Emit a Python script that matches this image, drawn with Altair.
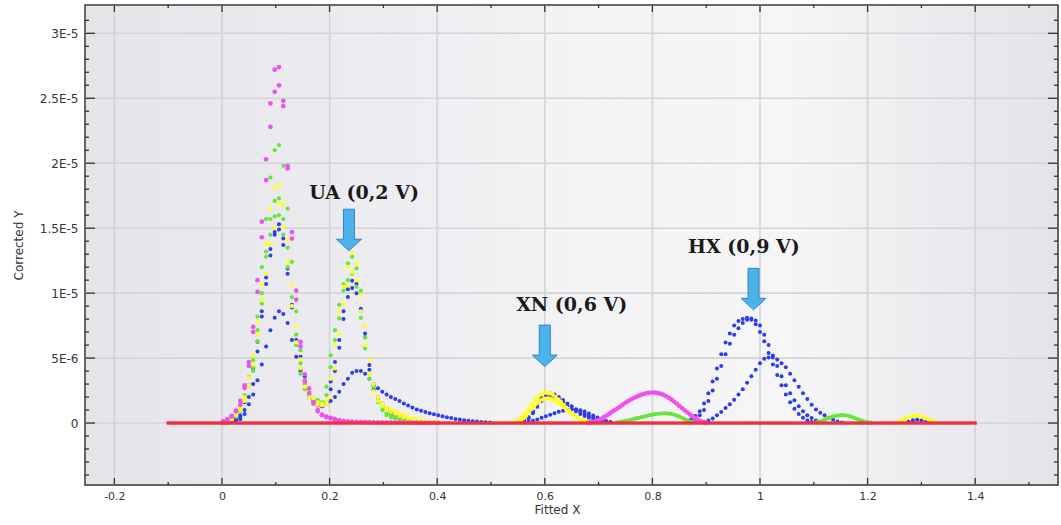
import altair as alt
import pandas as pd

# ---------------- axes / scale values ----------------
X_DOMAIN = [-0.2546, 1.5539]
Y_DOMAIN = [-4.77, 32.18]          # Corrected Y in units of 1E-6
X_MAJOR = [-0.2, 0.0, 0.2, 0.4, 0.6, 0.8, 1.0, 1.2, 1.4]
X_MAJOR_LABELS = ["-0.2", "0", "0.2", "0.4", "0.6", "0.8", "1", "1.2", "1.4"]
X_MINOR = [-0.1, 0.1, 0.3, 0.5, 0.7, 0.9, 1.1, 1.3, 1.5]
Y_MAJOR = [0, 5, 10, 15, 20, 25, 30]
Y_MAJOR_LABELS = ["0", "5E-6", "1E-5", "1.5E-5", "2E-5", "2.5E-5", "3E-5"]
Y_MINOR = [-4, -3, -2, -1, 1, 2, 3, 4, 6, 7, 8, 9, 11, 12, 13, 14, 16, 17, 18, 19,
           21, 22, 23, 24, 26, 27, 28, 29, 31]

# ---------------- series (x0, step, y-values in 1E-6) ----------------
G1_X0, G1_STEP = 0.002, 0.008     # sampling of the scattered low-potential scans
FINE = 0.005                      # sampling of the smooth scans

M_A = [0.15, 0.3, 0.55, 0.95, 1.4, 2.7, 4.4, 7.0, 10.1, 14.3, 18.7, 22.8, 25.5, 26.0, 24.4,
       19.8, 14.7, 10.2, 6.25, 3.75, 2.3, 1.6, 1.0, 0.65, 0.45, 0.35, 0.25, 0.18, 0.14, 0.12,
       0.1, 0.09, 0.08, 0.07, 0.07, 0.06, 0.06, 0.05, 0.05, 0.05, 0.04, 0.04, 0.04, 0.03,
       0.03, 0.03, 0.03, 0.02, 0.02, 0.02, 0.02]
M_B = [0.1, 0.25, 0.5, 0.9, 1.7, 2.9, 4.7, 7.4, 11.0, 15.5, 20.3, 24.6, 27.2, 27.4, 24.8,
       19.6, 14.2, 9.5, 5.9, 3.2, 2.67, 1.5, 0.9, 0.6, 0.5, 0.4, 0.3, 0.2, 0.15, 0.12, 0.1]
M_HUMP_X0 = 0.68
M_HUMP = [0.02, 0.05, 0.09, 0.15, 0.22, 0.33, 0.45, 0.58, 0.72, 0.86, 1.0, 1.13, 1.27, 1.42,
          1.56, 1.69, 1.81, 1.92, 2.02, 2.11, 2.19, 2.25, 2.3, 2.33, 2.35, 2.34, 2.31, 2.26,
          2.18, 2.08, 1.96, 1.82, 1.66, 1.49, 1.32, 1.15, 0.98, 0.82, 0.66, 0.51, 0.37, 0.25,
          0.15, 0.08, 0.03]

Y_A = [0.1, 0.2, 0.4, 0.7, 1.2, 2.0, 3.5, 5.2, 7.8, 10.7, 13.8, 16.5, 18.1, 18.3, 16.8,
       14.1, 10.6, 7.4, 4.9, 3.2, 2.4, 1.9, 1.6, 1.5, 1.7, 3.4, 6.0, 8.6, 10.5, 12.0, 13.1,
       12.3, 9.85, 7.5, 4.85, 3.0, 2.0, 1.5, 1.2, 1.05, 0.9, 0.75, 0.6, 0.48, 0.38, 0.3,
       0.22, 0.17, 0.12, 0.08, 0.05]
Y_B = [0.08, 0.15, 0.3, 0.6, 1.0, 1.7, 2.9, 4.5, 6.8, 9.5, 11.5, 13.8, 15.0, 16.9, 15.1,
       12.4, 9.0, 6.2, 4.2, 2.8, 2.0, 1.6, 1.4, 1.35, 1.5, 2.0, 4.2, 6.8, 9.2, 10.6, 11.6,
       11.0, 8.6, 6.0, 3.8, 2.4, 1.7, 1.3, 1.0, 0.85, 0.7, 0.55, 0.45, 0.35, 0.28, 0.22,
       0.17, 0.12, 0.09, 0.06, 0.04]
Y_XN_A_X0 = 0.54
Y_XN_A = [0.05, 0.1, 0.2, 0.35, 0.55, 0.8, 1.1, 1.4, 1.7, 1.95, 2.15, 2.28, 2.33, 2.33, 2.28,
          2.18, 2.02, 1.83, 1.62, 1.4, 1.18, 0.97, 0.78, 0.6, 0.45, 0.33, 0.23, 0.15, 0.09, 0.05]
Y_XN_B_X0 = 0.545
Y_XN_B = [0.05, 0.1, 0.2, 0.35, 0.55, 0.8, 1.05, 1.3, 1.5, 1.68, 1.8, 1.88, 1.9, 1.88, 1.8,
          1.7, 1.56, 1.4, 1.22, 1.05, 0.87, 0.7, 0.55, 0.42, 0.3, 0.21, 0.14, 0.09, 0.05]
Y_END_X0 = 1.255
Y_END = [0.05, 0.12, 0.22, 0.33, 0.43, 0.5, 0.55, 0.56, 0.55, 0.5, 0.43, 0.34, 0.25, 0.16,
         0.08, 0.03]

G_A = [0.05, 0.15, 0.35, 0.6, 1.25, 2.15, 3.56, 4.85, 8.2, 12.0, 15.7, 18.9, 21.0, 21.4,
       19.8, 16.5, 12.4, 8.6, 5.6, 3.3, 2.5, 1.9, 1.77, 1.6, 2.15, 4.3, 6.4, 9.1, 10.7, 12.3,
       12.8, 11.9, 10.2, 5.75, 3.8, 2.8, 1.9, 1.25, 0.74, 0.55, 0.42, 0.36, 0.3, 0.22, 0.15,
       0.1, 0.07, 0.05]
G_B = [0.03, 0.1, 0.25, 0.5, 0.9, 1.7, 2.9, 4.3, 7.15, 9.2, 12.8, 15.7, 17.1, 17.3, 15.7,
       13.5, 9.7, 6.8, 4.6, 3.0, 2.2, 1.7, 1.5, 1.5, 2.8, 5.2, 7.15, 8.05, 10.2, 11.0, 11.5,
       10.5, 8.1, 6.6, 3.4, 2.5, 1.6, 1.0, 0.6, 0.45, 0.35, 0.28, 0.2, 0.14, 0.1, 0.06]
G_C_X0 = 0.058
G_C = [4.0, 6.3, 10.0, 13.2, 14.5, 15.9, 16.0, 14.5, 12.0, 9.0, 6.0, 3.8, 2.6]
G_HUMP_X0 = 0.735
G_HUMP = [0.05, 0.08, 0.12, 0.16, 0.2, 0.25, 0.3, 0.35, 0.4, 0.45, 0.5, 0.55, 0.6, 0.64,
          0.68, 0.71, 0.73, 0.74, 0.74, 0.73, 0.7, 0.65, 0.58, 0.5, 0.4, 0.3, 0.2, 0.12, 0.06,
          0.03]
G_END_X0 = 1.105
G_END = [0.05, 0.1, 0.18, 0.26, 0.34, 0.42, 0.5, 0.55, 0.58, 0.6, 0.6, 0.58, 0.54, 0.48, 0.4,
         0.32, 0.24, 0.16, 0.1, 0.06, 0.03]

B_A = [0.02, 0.05, 0.12, 0.3, 0.6, 1.6, 2.9, 4.2, 6.25, 8.6, 11.2, 13.4, 14.7, 15.3, 13.7,
       11.9, 9.1, 6.4, 5.1, 3.6, 2.4, 1.8, 1.4, 1.3, 1.5, 3.2, 4.7, 6.4, 8.6, 10.3, 10.95,
       10.7, 8.8, 6.9, 4.46, 2.9, 2.0, 1.5, 1.15, 0.9, 0.7, 0.55, 0.42, 0.3, 0.22, 0.15,
       0.1, 0.06]
B_A2 = [0.02, 0.04, 0.1, 0.2, 0.45, 1.0, 2.0, 3.0, 5.5, 8.2, 10.7, 12.9, 14.5, 14.9, 14.2,
        11.5, 8.9, 6.0, 4.1, 3.0, 2.1, 1.6, 1.35, 1.3, 1.6, 2.6, 4.0, 5.8, 8.0, 9.7, 10.4,
        10.0, 8.6, 6.6, 4.1, 2.6, 1.8, 1.3, 1.0, 0.8, 0.6, 0.45, 0.33, 0.23, 0.15, 0.1, 0.05]
B_B = [0.02, 0.04, 0.08, 0.15, 0.3, 0.7, 1.44, 2.2, 3.3, 4.5, 5.9, 7.15, 8.1, 8.6, 8.4,
       7.7, 6.4, 5.1, 4.0, 3.3, 2.0, 1.7, 1.55, 1.5, 1.55, 1.7, 2.0, 2.4, 3.0, 3.4, 3.87,
       4.0, 4.0, 3.8, 3.4, 3.0, 2.67, 2.4, 2.2, 2.0, 1.85, 1.7, 1.5, 1.35, 1.2, 1.05, 0.95,
       0.85, 0.75, 0.67, 0.6, 0.52, 0.45, 0.38, 0.32, 0.27, 0.22, 0.18, 0.14, 0.11, 0.08,
       0.06, 0.04]
B_XN_A_X0 = 0.554
B_XN_A = [0.1, 0.2, 0.45, 0.9, 1.5, 1.9, 2.15, 2.28, 2.2, 2.0, 1.77, 1.5, 1.3, 1.05, 0.85,
          0.7, 0.55, 0.42, 0.32, 0.22, 0.12, 0.06]
B_XN_A2_X0 = 0.562
B_XN_A2 = [0.15, 0.35, 0.75, 1.25, 1.7, 1.95, 2.05, 2.0, 1.85, 1.6, 1.35, 1.1, 0.9, 0.7, 0.55,
           0.4, 0.28, 0.18, 0.1]
B_XN_B_X0 = 0.562
B_XN_B = [0.05, 0.1, 0.18, 0.28, 0.4, 0.52, 0.64, 0.76, 0.86, 0.95, 1.02, 1.06, 1.05, 0.98,
          0.88, 0.74, 0.58, 0.42, 0.28, 0.16, 0.08]
B_HX_A_X0 = 0.872
B_HX_A = [0.3, 0.55, 0.9, 1.5, 2.3, 3.2, 4.2, 5.3, 6.2, 6.9, 7.5, 7.85, 8.0, 8.1, 7.95, 7.6,
          7.0, 6.3, 5.4, 4.5, 3.7, 2.9, 2.2, 1.6, 1.1, 0.7, 0.4, 0.2, 0.08]
B_HX_A2_X0 = 0.880
B_HX_A2 = [0.3, 0.6, 1.0, 1.7, 2.5, 3.4, 4.4, 5.3, 6.1, 6.8, 7.3, 7.7, 7.95, 8.05, 7.9, 7.5,
           6.8, 6.0, 5.2, 4.4, 3.6, 2.9, 2.3, 1.75, 1.3, 0.9, 0.6, 0.38, 0.2, 0.08]
B_HX_B_X0 = 0.896
B_HX_B = [0.1, 0.2, 0.35, 0.6, 0.85, 1.15, 1.45, 1.8, 2.2, 2.6, 3.1, 3.6, 4.1, 4.6, 4.95,
          5.05, 5.05, 4.9, 4.6, 4.3, 3.8, 3.3, 2.8, 2.3, 1.85, 1.4, 1.05, 0.8, 0.6, 0.4, 0.25,
          0.12, 0.05]
B_END_X0 = 1.276
B_END = [0.1, 0.22, 0.25, 0.2, 0.1]

RED_X0, RED_N = -0.1, 301         # baseline scan -0.1 ... 1.4 V, all at zero
RED_Y = 0.0

# annotations
ANN_LABELS = ["UA (0,2 V)", "XN (0,6 V)", "HX (0,9 V)"]
ANN_LABEL_X = [0.264, 0.650, 0.970]
ANN_LABEL_Y = [17.7, 9.08, 13.56]
ARROW_X = [0.236, 0.600, 0.988]
ARROW_BASE_Y = [14.15, 5.23, 9.6]

COLORS = {"blue": "#2a3cf0", "green": "#66e63a", "yellow": "#ffff22",
          "magenta": "#f050f0", "red": "#f03040"}
SIZES = {"blue": 16, "green": 18, "yellow": 18, "magenta": 22, "red": 11}

SEGMENTS = [
    ("blue", G1_X0, G1_STEP, B_A), ("blue", G1_X0, G1_STEP, B_A2), ("blue", G1_X0, G1_STEP, B_B),
    ("blue", B_XN_A_X0, G1_STEP, B_XN_A), ("blue", B_XN_A2_X0, G1_STEP, B_XN_A2),
    ("blue", B_XN_B_X0, G1_STEP, B_XN_B), ("blue", B_HX_A_X0, G1_STEP, B_HX_A),
    ("blue", B_HX_A2_X0, G1_STEP, B_HX_A2), ("blue", B_HX_B_X0, G1_STEP, B_HX_B),
    ("blue", B_END_X0, G1_STEP, B_END),
    ("green", G1_X0, G1_STEP, G_A), ("green", G1_X0, G1_STEP, G_B), ("green", G_C_X0, G1_STEP, G_C),
    ("green", G_HUMP_X0, FINE, G_HUMP), ("green", G_END_X0, FINE, G_END),
    ("yellow", G1_X0, G1_STEP, Y_A), ("yellow", G1_X0, G1_STEP, Y_B),
    ("yellow", Y_XN_A_X0, FINE, Y_XN_A), ("yellow", Y_XN_B_X0, FINE, Y_XN_B),
    ("yellow", Y_END_X0, FINE, Y_END),
    ("magenta", G1_X0, G1_STEP, M_A), ("magenta", G1_X0, G1_STEP, M_B),
    ("magenta", M_HUMP_X0, FINE, M_HUMP),
    ("red", RED_X0, FINE, [RED_Y] * RED_N),
]

rows = []
for c, x0, step, ys in SEGMENTS:
    for i, v in enumerate(ys):
        rows.append({"x": round(x0 + i * step, 4), "y": v, "c": c})
df = pd.DataFrame(rows)

W, H = 973, 480
xs = alt.Scale(domain=X_DOMAIN, nice=False, zero=False)
ys_ = alt.Scale(domain=Y_DOMAIN, nice=False, zero=False)


def label_expr(vals, labels):
    parts = [f"abs(datum.value - ({v})) < 1e-6 ? '{l}'" for v, l in zip(vals, labels)]
    return " : ".join(parts) + " : ''"


X_AXIS = alt.Axis(values=X_MAJOR, labelExpr=label_expr(X_MAJOR, X_MAJOR_LABELS), grid=False,
                  ticks=False, domain=False, labelFont="DejaVu Sans", labelFontSize=11,
                  labelColor="#333344", labelPadding=5, title="Fitted X",
                  titleFont="DejaVu Sans", titleFontSize=12, titleFontWeight="normal",
                  titleColor="#333344", titlePadding=3, titleX=472)
Y_AXIS = alt.Axis(values=Y_MAJOR, labelExpr=label_expr(Y_MAJOR, Y_MAJOR_LABELS), grid=False,
                  ticks=False, domain=False, labelFont="DejaVu Sans", labelFontSize=12,
                  labelColor="#333344", labelPadding=7, title="Corrected Y",
                  titleFont="DejaVu Sans", titleFontSize=12, titleFontWeight="normal",
                  titleColor="#333344", titlePadding=14)

one = pd.DataFrame({"a": [0]})
bg = alt.Chart(one).mark_rect(
    fill=alt.LinearGradient(gradient="linear", x1=0, x2=1, y1=0, y2=0, stops=[
        alt.GradientStop(color="#e4e4e9", offset=0),
        alt.GradientStop(color="#f3f3f6", offset=0.5),
        alt.GradientStop(color="#f6f6f8", offset=0.72),
        alt.GradientStop(color="#e3e3e8", offset=1)]),
    stroke="#3a3a3a", strokeWidth=1.5
).encode(x=alt.value(0), x2=alt.value(W), y=alt.value(0), y2=alt.value(H))

xmaj = pd.DataFrame({"v": X_MAJOR})
xmin = pd.DataFrame({"v": X_MINOR})
ymaj = pd.DataFrame({"v": Y_MAJOR})
ymin = pd.DataFrame({"v": Y_MINOR})

GRID = dict(color="#d3d3d8", strokeWidth=1.6)
TICK = dict(color="#333333", strokeWidth=1.3)

xgrid = alt.Chart(xmaj).mark_rule(**GRID).encode(x=alt.X("v:Q", scale=xs, axis=X_AXIS))
ygrid = alt.Chart(ymaj).mark_rule(**GRID).encode(y=alt.Y("v:Q", scale=ys_, axis=Y_AXIS))


def yticks(data, length):
    a = alt.Chart(data).mark_rule(**TICK).encode(
        y=alt.Y("v:Q", scale=ys_, axis=Y_AXIS), x=alt.value(0), x2=alt.value(length))
    b = alt.Chart(data).mark_rule(**TICK).encode(
        y=alt.Y("v:Q", scale=ys_, axis=Y_AXIS), x=alt.value(W - length), x2=alt.value(W))
    return [a, b]


def xticks(data, length):
    a = alt.Chart(data).mark_rule(**TICK).encode(
        x=alt.X("v:Q", scale=xs, axis=X_AXIS), y=alt.value(H - length), y2=alt.value(H))
    b = alt.Chart(data).mark_rule(**TICK).encode(
        x=alt.X("v:Q", scale=xs, axis=X_AXIS), y=alt.value(0), y2=alt.value(length))
    return [a, b]


ticks = yticks(ymaj, 10) + yticks(ymin, 4) + xticks(xmaj, 7) + xticks(xmin, 3)

point_layers = []
for c in ["blue", "green", "yellow", "magenta", "red"]:
    point_layers.append(
        alt.Chart(df).transform_filter(alt.datum.c == c).mark_point(
            filled=True, opacity=1, size=SIZES[c], strokeWidth=0,
            shape="square" if c == "red" else "circle", color=COLORS[c]
        ).encode(x=alt.X("x:Q", scale=xs, axis=X_AXIS), y=alt.Y("y:Q", scale=ys_, axis=Y_AXIS))
    )

ann = pd.DataFrame({"label": ANN_LABELS, "lx": ANN_LABEL_X, "ly": ANN_LABEL_Y,
                    "ax": ARROW_X, "ay": ARROW_BASE_Y})
ARROW_PATH = "M -0.44 -2.4 L 0.44 -2.4 L 0.44 0 L 1 0 L 0 0.92 L -1 0 L -0.44 0 Z"
arrows = alt.Chart(ann).mark_point(
    shape=ARROW_PATH, size=625, filled=True, fill="#4cb2ec", stroke="#2f86c4",
    strokeWidth=1, opacity=1
).encode(x=alt.X("ax:Q", scale=xs, axis=X_AXIS), y=alt.Y("ay:Q", scale=ys_, axis=Y_AXIS))
texts = alt.Chart(ann).mark_text(
    font="DejaVu Serif", fontWeight="bold", fontSize=19, color="#1a1a1a",
    align="center", baseline="middle"
).encode(x=alt.X("lx:Q", scale=xs, axis=X_AXIS), y=alt.Y("ly:Q", scale=ys_, axis=Y_AXIS),
         text="label:N")

chart = alt.layer(bg, xgrid, ygrid, *ticks, *point_layers, arrows, texts).properties(
    width=W, height=H,
    autosize=alt.AutoSizeParams(type="none"),
    padding={"left": 85, "top": 5, "right": 3, "bottom": 40},
).configure_view(stroke=None).configure(background="white")

chart.save("out.html", embed_options={"renderer": "svg", "actions": False})
